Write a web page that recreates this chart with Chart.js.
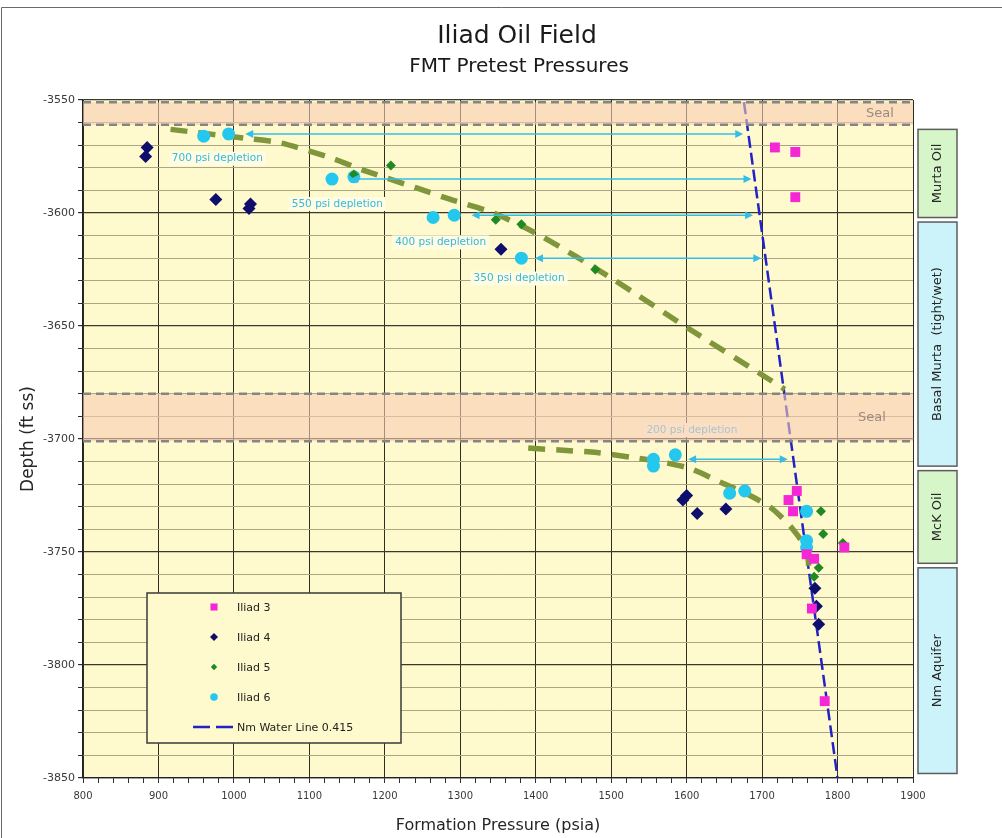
<!DOCTYPE html>
<html>
<head>
<meta charset="utf-8">
<title>Iliad Oil Field – FMT Pretest Pressures</title>
<script src="https://cdn.jsdelivr.net/npm/chart.js@4.4.1/dist/chart.umd.min.js"></script>
<style>
  html, body { margin: 0; padding: 0; background: #ffffff; }
  #wrap { position: relative; width: 1002px; height: 838px; overflow: hidden; }
  canvas { display: block; }
</style>
</head>
<body>
<div id="wrap"><canvas id="fmt" width="1002" height="838"></canvas></div>
<script>
// ---- Pretest data: formation pressure (psia) against depth (ft ss) ----
const iliad3Psia  = [1717, 1744, 1744, 1746, 1735, 1741, 1809, 1759, 1769, 1766, 1783];
const iliad3Depth = [-3571, -3573, -3593, -3723, -3727, -3732, -3748, -3751, -3753, -3775, -3816];

const iliad4Psia  = [885, 883, 976, 1022, 1020, 1354, 1600, 1595, 1614, 1652, 1770, 1772, 1775];
const iliad4Depth = [-3571, -3575, -3594, -3596, -3598, -3616, -3725, -3727, -3733, -3731, -3766, -3774, -3782];

const iliad5Psia  = [1208, 1159, 1347, 1381, 1479, 1778, 1781, 1807, 1775, 1769];
const iliad5Depth = [-3579, -3583, -3603, -3605, -3625, -3732, -3742, -3746, -3757, -3761];

const iliad6Psia  = [960, 993, 1130, 1159, 1264, 1292, 1381, 1556, 1556, 1585, 1657, 1677, 1759, 1759, 1759];
const iliad6Depth = [-3566, -3565, -3585, -3584, -3602, -3601, -3620, -3709, -3712, -3707, -3724, -3723, -3732, -3745, -3748];

// Nm aquifer water gradient (0.415 psi/ft)
const waterPsia  = [1676, 1800];
const waterDepth = [-3551, -3850];

// Depletion trends
const murtaTrendPsia  = [916, 1017, 1062, 1132, 1171, 1243, 1287, 1344, 1406, 1501, 1602, 1697, 1730];
const murtaTrendDepth = [-3563, -3567, -3569, -3576, -3581, -3589, -3594, -3600, -3610, -3629, -3651, -3671, -3678];
const mckTrendPsia  = [1390, 1436, 1481, 1525, 1564, 1604, 1644, 1684, 1714, 1741, 1759, 1762];
const mckTrendDepth = [-3704, -3705, -3706, -3708, -3710, -3713, -3719, -3725, -3731, -3740, -3749, -3757];

// Depletion arrows and their notes
const arrowDepth = [-3565, -3585, -3601, -3620, -3709];
const arrowFrom  = [1015, 1154, 1315, 1399, 1602];
const arrowTo    = [1675, 1686, 1688, 1699, 1734];
const noteText  = ['700 psi depletion', '550 psi depletion', '400 psi depletion', '350 psi depletion', '200 psi depletion'];
const notePsia  = [978, 1137, 1274, 1378, 1607];
const noteDepth = [-3576, -3596, -3613, -3629, -3696];

// Seals and zones
const sealTop  = [-3551, -3680];
const sealBase = [-3561, -3701];
const zoneNames = ['Murta Oil', 'Basal Murta  (tight/wet)', 'McK Oil', 'Nm Aquifer'];
const zoneTop   = [-3563, -3604, -3714, -3757];
const zoneBase  = [-3602, -3712, -3755, -3848];

// Axis ranges
const psiaMin = 800, psiaMax = 1900;
const depthMin = -3850, depthMax = -3550;

// ---- Styling ----
const FONT = '"DejaVu Sans", Verdana, sans-serif';
const PLOT_BG = '#FFFACD';
const ARROW = '#33BEEA';
const NOTE = '#33B9E2';
const SEAL_FILL = 'rgba(247,203,180,0.6)';
const ZONE_FILL = ['#D6F5C9', '#CDF3FA', '#D6F5C9', '#CDF3FA'];

Chart.defaults.font.family = FONT;
Chart.defaults.color = '#333333';

const pts = (p, d) => p.map((v, i) => ({ x: v, y: d[i] }));

function arrowHead(ctx, x, y, dir) {
  ctx.beginPath();
  ctx.moveTo(x, y);
  ctx.lineTo(x - dir * 8, y - 4);
  ctx.lineTo(x - dir * 8, y + 4);
  ctx.closePath();
  ctx.fill();
}

const decorations = {
  id: 'decorations',
  beforeDraw(chart) {
    const { ctx, chartArea: a } = chart;
    ctx.save();
    ctx.fillStyle = '#ffffff';
    ctx.fillRect(0, 0, chart.width, chart.height);
    ctx.fillStyle = PLOT_BG;
    ctx.fillRect(a.left, a.top, a.right - a.left, a.bottom - a.top);
    // outer frame
    ctx.strokeStyle = '#6a6a6a';
    ctx.lineWidth = 1;
    ctx.beginPath();
    ctx.moveTo(1.5, chart.height);
    ctx.lineTo(1.5, 7.5);
    ctx.lineTo(chart.width, 7.5);
    ctx.stroke();
    // titles
    ctx.fillStyle = '#1a1a1a';
    ctx.textAlign = 'center';
    ctx.textBaseline = 'middle';
    ctx.font = '25px ' + FONT;
    ctx.fillText('Iliad Oil Field', 517, 36);
    ctx.font = '20px ' + FONT;
    ctx.fillText('FMT Pretest Pressures', 519, 67);
    ctx.restore();
  },
  afterDatasetsDraw(chart) {
    const { ctx, chartArea: a, scales: { x, y } } = chart;
    ctx.save();

    // depletion arrows
    ctx.strokeStyle = ARROW;
    ctx.fillStyle = ARROW;
    ctx.lineWidth = 1.5;
    arrowDepth.forEach((d, i) => {
      const py = y.getPixelForValue(d);
      const x0 = x.getPixelForValue(arrowFrom[i]);
      const x1 = x.getPixelForValue(arrowTo[i]);
      ctx.beginPath();
      ctx.moveTo(x0 + 6, py);
      ctx.lineTo(x1 - 6, py);
      ctx.stroke();
      arrowHead(ctx, x0, py, -1);
      arrowHead(ctx, x1, py, 1);
    });

    // depletion notes
    ctx.font = '10.5px ' + FONT;
    ctx.textAlign = 'center';
    ctx.textBaseline = 'middle';
    noteText.forEach((t, i) => {
      const cx = x.getPixelForValue(notePsia[i]);
      const cy = y.getPixelForValue(noteDepth[i]);
      const w = ctx.measureText(t).width + 6;
      ctx.fillStyle = '#FFFCE2';
      ctx.fillRect(cx - w / 2, cy - 7, w, 14);
      ctx.fillStyle = NOTE;
      ctx.fillText(t, cx, cy);
    });

    // seals: translucent band with dashed top and base
    sealTop.forEach((d, i) => {
      const y0 = y.getPixelForValue(d);
      const y1 = y.getPixelForValue(sealBase[i]);
      ctx.fillStyle = SEAL_FILL;
      ctx.fillRect(a.left, y0, a.right - a.left, y1 - y0);
      ctx.strokeStyle = '#858585';
      ctx.lineWidth = 2.5;
      ctx.setLineDash([8, 5]);
      [y0, y1].forEach(py => {
        ctx.beginPath();
        ctx.moveTo(a.left, py);
        ctx.lineTo(a.right, py);
        ctx.stroke();
      });
      ctx.setLineDash([]);
      ctx.fillStyle = '#9C8A7C';
      ctx.font = '13px ' + FONT;
      ctx.textAlign = 'center';
      ctx.textBaseline = 'middle';
      ctx.fillText('Seal', a.right - (i === 0 ? 33 : 41), (y0 + y1) / 2);
    });

    // key
    const lx = a.left + 64, ly = a.bottom - 185, lw = 254, lh = 150;
    ctx.fillStyle = PLOT_BG;
    ctx.fillRect(lx, ly, lw, lh);
    ctx.strokeStyle = '#3a3a3a';
    ctx.lineWidth = 1.5;
    ctx.strokeRect(lx, ly, lw, lh);
    ctx.font = '11px ' + FONT;
    ctx.textAlign = 'left';
    ctx.textBaseline = 'middle';
    chart.data.datasets.filter(ds => ds.inKey).forEach((ds, i) => {
      const ry = ly + 14 + i * 30;
      if (ds.showLine) {
        ctx.strokeStyle = ds.borderColor;
        ctx.lineWidth = 2.5;
        ctx.setLineDash([17, 6]);
        ctx.beginPath();
        ctx.moveTo(lx + 46, ry);
        ctx.lineTo(lx + 86, ry);
        ctx.stroke();
        ctx.setLineDash([]);
      } else {
        ctx.fillStyle = ds.backgroundColor;
        Chart.helpers.drawPoint(ctx, { pointStyle: ds.pointStyle, radius: ds.keyRadius, rotation: 0, borderWidth: 0 }, lx + 67, ry);
      }
      ctx.fillStyle = '#222222';
      ctx.fillText(ds.label, lx + 90, ry + 1);
    });

    ctx.restore();
  },
  afterDraw(chart) {
    const { ctx, chartArea: a, scales: { y } } = chart;
    ctx.save();
    // zone boxes beside the plot
    const zx = a.right + 5, zw = 39;
    zoneNames.forEach((name, i) => {
      const y0 = y.getPixelForValue(zoneTop[i]);
      const y1 = y.getPixelForValue(zoneBase[i]);
      ctx.fillStyle = ZONE_FILL[i];
      ctx.fillRect(zx, y0, zw, y1 - y0);
      ctx.strokeStyle = '#5c5c5c';
      ctx.lineWidth = 1.5;
      ctx.strokeRect(zx, y0, zw, y1 - y0);
      ctx.save();
      ctx.translate(zx + zw / 2, (y0 + y1) / 2);
      ctx.rotate(-Math.PI / 2);
      ctx.fillStyle = '#262626';
      ctx.font = '13px ' + FONT;
      ctx.textAlign = 'center';
      ctx.textBaseline = 'middle';
      ctx.fillText(name, 0, 0);
      ctx.restore();
    });
    ctx.restore();
  }
};

const chart = new Chart(document.getElementById('fmt'), {
  type: 'scatter',
  data: {
    datasets: [
      { label: 'Iliad 3', data: pts(iliad3Psia, iliad3Depth), pointStyle: 'rect', pointRadius: 7,
        backgroundColor: '#F526D6', borderWidth: 0, order: 1, inKey: true, keyRadius: 5 },
      { label: 'Iliad 4', data: pts(iliad4Psia, iliad4Depth), pointStyle: 'rectRot', pointRadius: 6.5,
        backgroundColor: '#0E0E6C', borderWidth: 0, order: 1, inKey: true, keyRadius: 4 },
      { label: 'Iliad 5', data: pts(iliad5Psia, iliad5Depth), pointStyle: 'rectRot', pointRadius: 5,
        backgroundColor: '#1F8A22', borderWidth: 0, order: 1, inKey: true, keyRadius: 3.2 },
      { label: 'Iliad 6', data: pts(iliad6Psia, iliad6Depth), pointStyle: 'circle', pointRadius: 6.5,
        backgroundColor: '#24C8EE', borderWidth: 0, order: 1, inKey: true, keyRadius: 3.8 },
      { label: 'Nm Water Line 0.415', data: pts(waterPsia, waterDepth), showLine: true, pointRadius: 0,
        borderColor: '#2222C8', borderWidth: 2.5, borderDash: [12, 5], order: 3, inKey: true },
      { label: 'Murta depletion trend', data: pts(murtaTrendPsia, murtaTrendDepth), showLine: true, pointRadius: 0,
        borderColor: '#80963A', borderWidth: 5.5, borderDash: [17, 11], tension: 0.25, order: 2 },
      { label: 'McK depletion trend', data: pts(mckTrendPsia, mckTrendDepth), showLine: true, pointRadius: 0,
        borderColor: '#80963A', borderWidth: 5.5, borderDash: [17, 11], tension: 0.25, order: 2 }
    ]
  },
  options: {
    responsive: false,
    animation: false,
    devicePixelRatio: 1,
    events: [],
    layout: { padding: { left: 10, right: 89, top: 100, bottom: 0 } },
    plugins: {
      legend: { display: false },
      tooltip: { enabled: false },
      title: { display: false }
    },
    scales: {
      x: {
        type: 'linear',
        min: psiaMin,
        max: psiaMax,
        afterFit(s) { s.height = 60; },
        ticks: {
          stepSize: 20,
          autoSkip: false,
          maxRotation: 0,
          padding: 7,
          color: '#3a3a3a',
          font: { size: 10 },
          callback: v => (v % 100 === 0 ? String(v) : '')
        },
        grid: {
          color: c => (c.tick && c.tick.value % 100 === 0 ? '#2e2e24' : 'rgba(0,0,0,0)'),
          lineWidth: 1,
          tickColor: '#2e2e2e',
          tickLength: 5
        },
        border: { color: '#222222', width: 1.2 },
        title: {
          display: true,
          text: 'Formation Pressure (psia)',
          color: '#262626',
          font: { size: 16 },
          padding: { top: 0, bottom: 3 }
        }
      },
      y: {
        type: 'linear',
        min: depthMin,
        max: depthMax,
        afterFit(s) { s.width = 73; },
        ticks: {
          stepSize: 10,
          autoSkip: false,
          padding: 3,
          color: '#3a3a3a',
          font: { size: 11 },
          callback: v => (v % 50 === 0 ? String(v) : '')
        },
        grid: {
          color: c => (c.tick && c.tick.value % 50 === 0 ? '#3a3a2c' : '#aaa684'),
          lineWidth: c => (c.tick && c.tick.value % 50 === 0 ? 1.2 : 1),
          tickColor: '#2e2e2e',
          tickLength: 5
        },
        border: { color: '#222222', width: 1.2 },
        title: {
          display: true,
          text: 'Depth (ft ss)',
          color: '#262626',
          font: { size: 17 },
          padding: { top: 8, bottom: 0 }
        }
      }
    }
  },
  plugins: [decorations]
});
</script>
</body>
</html>
